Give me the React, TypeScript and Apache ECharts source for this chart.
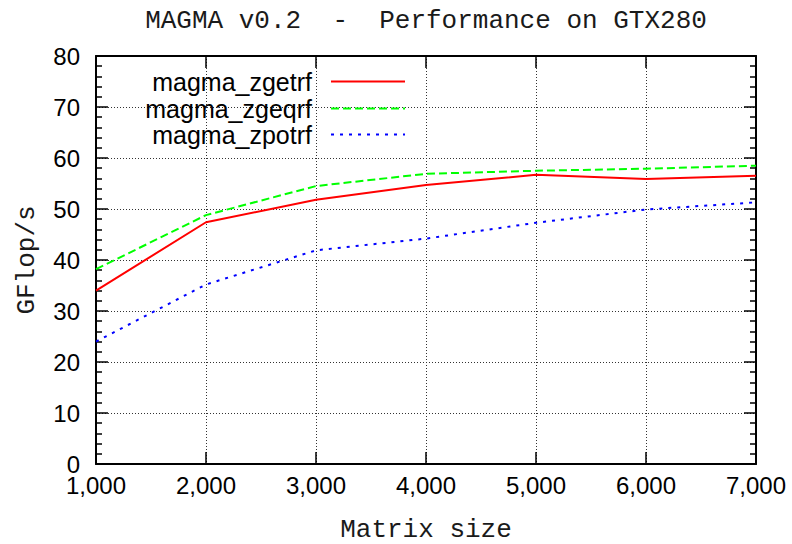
import React, { useEffect, useRef } from "react";
import * as echarts from "echarts";

const matrixSizes = [1000, 2000, 3000, 4000, 5000, 6000, 7000];
const zgetrf = [34.0, 47.4, 51.8, 54.7, 56.7, 55.9, 56.5];
const zgeqrf = [38.2, 48.8, 54.5, 56.9, 57.5, 57.9, 58.5];
const zpotrf = [24.0, 35.2, 41.9, 44.2, 47.3, 49.9, 51.3];
const seriesNames = ["magma_zgetrf", "magma_zgeqrf", "magma_zpotrf"];
const titleText = "MAGMA v0.2  -  Performance on GTX280";
const xName = "Matrix size";
const yName = "GFlop/s";

const MONO = "'Liberation Mono', 'DejaVu Sans Mono', monospace";
const SANS = "'Liberation Sans', Arial, sans-serif";

export default function App() {
  const ref = useRef<HTMLDivElement>(null);
  useEffect(() => {
    if (!ref.current) return;
    const chart = echarts.init(ref.current, null, { renderer: "svg" });
    const toPairs = (vals: number[]) => matrixSizes.map((x, i) => [x, vals[i]]);
    const gridLine = { show: true, lineStyle: { color: "#333", width: 1, type: [1, 2] as any } };
    const legendFor = (name: string, top: number) => ({
      data: [name],
      orient: "vertical",
      align: "right",
      right: 386,
      top,
      padding: 0,
      itemWidth: 74,
      itemHeight: 14,
      itemStyle: { opacity: 0, borderWidth: 0 },
      textStyle: { fontFamily: SANS, fontSize: 25, color: "#000", padding: [0, 14, 0, 0] },
    });
    chart.setOption({
      animation: false,
      backgroundColor: "#fff",
      title: {
        text: titleText,
        left: 426,
        textAlign: "center",
        top: 8,
        padding: 0,
        textStyle: { fontFamily: MONO, fontSize: 26, fontWeight: "normal", color: "#1a1a1a" },
      },
      legend: [
        legendFor(seriesNames[0], 69),
        legendFor(seriesNames[1], 96),
        legendFor(seriesNames[2], 122),
      ],
      grid: { left: 96, right: 36, top: 56, bottom: 80, outerBoundsMode: "none", containLabel: false },
      xAxis: [
        {
          type: "value",
          min: 1000,
          max: 7000,
          interval: 1000,
          name: xName,
          nameLocation: "middle",
          nameGap: 54,
          nameTextStyle: { fontFamily: MONO, fontSize: 26, lineHeight: 24, color: "#1a1a1a" },
          axisLine: { show: true, onZero: false, lineStyle: { color: "#000", width: 2 } },
          axisTick: { show: true, inside: true, length: 12, lineStyle: { color: "#000", width: 1.5 } },
          axisLabel: {
            margin: 11,
            fontFamily: SANS,
            fontSize: 24,
            lineHeight: 20,
            color: "#000",
            formatter: (v: number) => v.toLocaleString("en-US"),
          },
          splitLine: gridLine,
        },
        {
          type: "value",
          position: "top",
          min: 1000,
          max: 7000,
          interval: 1000,
          axisLine: { show: true, onZero: false, lineStyle: { color: "#000", width: 2 } },
          axisTick: { show: true, inside: true, length: 12, lineStyle: { color: "#000", width: 1.5 } },
          axisLabel: { show: false },
          splitLine: { show: false },
        },
      ],
      yAxis: [
        {
          type: "value",
          min: 0,
          max: 80,
          interval: 10,
          name: yName,
          nameLocation: "middle",
          nameRotate: 90,
          nameGap: 56,
          nameTextStyle: { fontFamily: MONO, fontSize: 26, color: "#1a1a1a" },
          axisLine: { show: true, onZero: false, lineStyle: { color: "#000", width: 2 } },
          axisTick: { show: true, inside: true, length: 12, lineStyle: { color: "#000", width: 1.5 } },
          minorTick: { show: true, splitNumber: 5, length: 6, lineStyle: { color: "#000", width: 1.5 } },
          axisLabel: { margin: 16, fontFamily: SANS, fontSize: 24, lineHeight: 20, color: "#000" },
          splitLine: gridLine,
        },
        {
          type: "value",
          position: "right",
          min: 0,
          max: 80,
          interval: 10,
          axisLine: { show: true, onZero: false, lineStyle: { color: "#000", width: 2 } },
          axisTick: { show: true, inside: true, length: 12, lineStyle: { color: "#000", width: 1.5 } },
          minorTick: { show: true, splitNumber: 5, length: 6, lineStyle: { color: "#000", width: 1.5 } },
          axisLabel: { show: false },
          splitLine: { show: false },
        },
      ],
      series: [
        {
          name: seriesNames[0],
          type: "line",
          symbol: "none",
          data: toPairs(zgetrf),
          color: "#ff0000",
          lineStyle: { color: "#ff0000", width: 2, type: "solid" },
        },
        {
          name: seriesNames[1],
          type: "line",
          symbol: "none",
          data: toPairs(zgeqrf),
          color: "#00ff00",
          lineStyle: { color: "#00ff00", width: 2, type: [8, 4] },
        },
        {
          name: seriesNames[2],
          type: "line",
          symbol: "none",
          data: toPairs(zpotrf),
          color: "#0000ff",
          lineStyle: { color: "#0000ff", width: 2, type: [3, 6] },
        },
      ],
    });
    return () => chart.dispose();
  }, []);
  return <div ref={ref} style={{ width: 792, height: 544, position: "absolute", left: 0, top: 0 }} />;
}
